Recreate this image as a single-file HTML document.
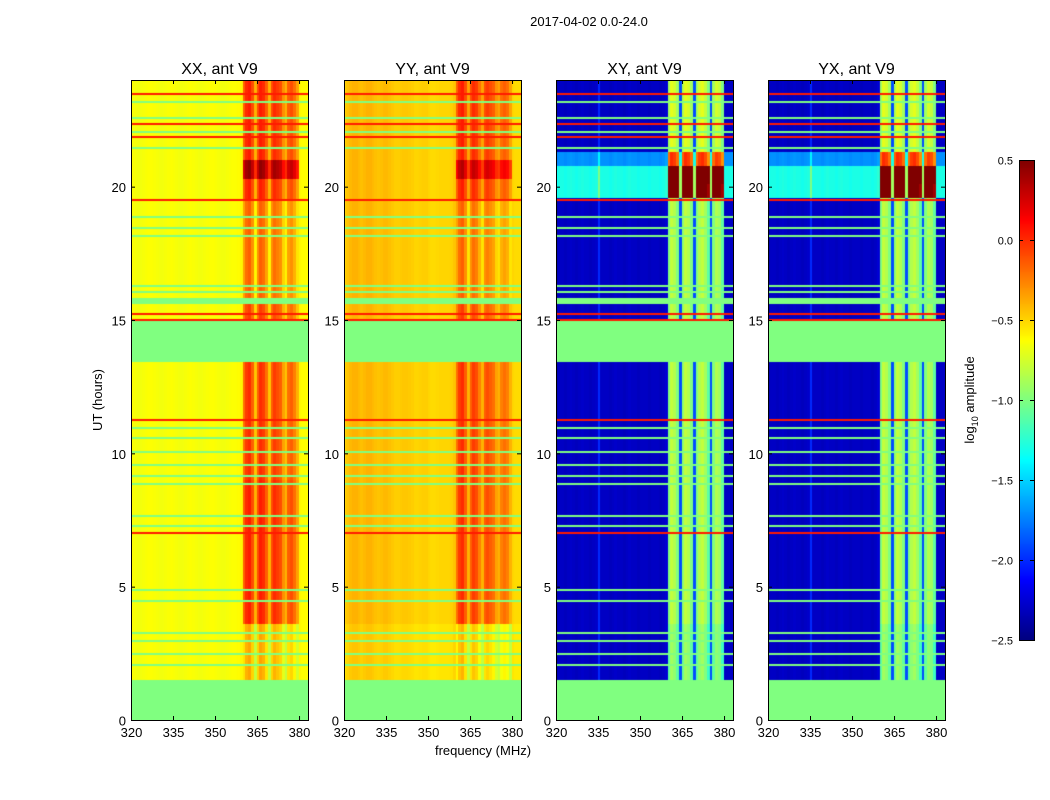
<!DOCTYPE html>
<html><head><meta charset="utf-8">
<style>
body{margin:0;background:#fff;width:1050px;height:800px;position:relative;overflow:hidden;font-family:"Liberation Sans",sans-serif}
canvas{position:absolute}
svg{position:absolute;left:0;top:0}
text{font-family:"Liberation Sans",sans-serif;fill:#000}
</style></head><body>
<canvas id="c0" width="177" height="640" style="left:131px;top:80px"></canvas>
<canvas id="c1" width="177" height="640" style="left:344px;top:80px"></canvas>
<canvas id="c2" width="177" height="640" style="left:556px;top:80px"></canvas>
<canvas id="c3" width="177" height="640" style="left:768px;top:80px"></canvas>
<canvas id="cb" width="15" height="480" style="left:1019px;top:160px"></canvas>
<svg id="ov" width="1050" height="800"></svg>
<script>
// ---- data ----
const panelTitles = ["XX, ant V9","YY, ant V9","XY, ant V9","YX, ant V9"];
const xTicks = [320,335,350,365,380];
const yTicks = [0,5,10,15,20];
const cbTicks = [0.5,0.0,-0.5,-1.0,-1.5,-2.0,-2.5];
const channels = [320,321,322,323,324,325,326,327,328,329,330,331,332,333,334,335,336,337,338,339,340,341,342,343,344,345,346,347,348,349,350,351,352,353,354,355,356,357,358,359,360,361,362,363,364,365,366,367,368,369,370,371,372,373,374,375,376,377,378,379,380,381,382,383];
// spectral profiles (log10 amplitude) per channel
const profileXX = [-0.62,-0.65,-0.66,-0.66,-0.65,-0.64,-0.63,-0.63,-0.64,-0.65,-0.66,-0.66,-0.65,-0.64,-0.63,-0.64,-0.65,-0.66,-0.66,-0.65,-0.64,-0.63,-0.64,-0.65,-0.66,-0.66,-0.65,-0.64,-0.63,-0.63,-0.64,-0.65,-0.66,-0.66,-0.65,-0.64,-0.63,-0.63,-0.62,-0.6,-0.25,-0.1,-0.05,-0.2,-0.5,-0.2,-0.05,-0.1,-0.25,-0.5,-0.2,-0.1,-0.15,-0.2,-0.4,-0.5,-0.25,-0.2,-0.3,-0.45,-0.6,-0.62,-0.62,-0.62];
const profileYY = [-0.5,-0.45,-0.42,-0.4,-0.4,-0.42,-0.44,-0.42,-0.4,-0.4,-0.42,-0.44,-0.45,-0.44,-0.42,-0.42,-0.44,-0.46,-0.48,-0.48,-0.47,-0.46,-0.46,-0.47,-0.48,-0.5,-0.5,-0.49,-0.48,-0.48,-0.5,-0.52,-0.52,-0.51,-0.5,-0.5,-0.5,-0.5,-0.49,-0.45,-0.25,-0.1,-0.05,-0.2,-0.45,-0.2,-0.1,-0.15,-0.3,-0.45,-0.2,-0.15,-0.2,-0.25,-0.4,-0.45,-0.3,-0.25,-0.3,-0.45,-0.5,-0.52,-0.52,-0.52];
const profileXY = [-2.35,-2.3,-2.3,-2.32,-2.3,-2.28,-2.3,-2.32,-2.3,-2.28,-2.3,-2.3,-2.32,-2.3,-2.28,-2.0,-2.3,-2.3,-2.3,-2.32,-2.3,-2.28,-2.3,-2.3,-2.32,-2.3,-2.28,-2.3,-2.3,-2.32,-2.3,-2.3,-2.3,-2.32,-2.3,-2.3,-2.3,-2.32,-2.3,-2.25,-1.0,-0.8,-0.85,-1.0,-1.9,-0.95,-0.8,-0.85,-1.0,-1.9,-1.0,-0.85,-0.8,-0.9,-1.1,-1.9,-1.0,-0.85,-0.9,-1.1,-2.3,-2.3,-2.3,-2.3];
const profileYX = profileXY.slice();
// time segments: [start h, end h, background offset, band boost, flagged(1/0)]
const segXX = [[0,1.5,0,0,1],[1.5,3.6,0,-0.3,0],[3.6,9,0,0.1,0],[9,13.45,0,0.05,0],[13.45,15,0,0,1],[15,15.6,0,0,0],[15.6,15.85,0,0,1],[15.85,19.5,0,-0.1,0],[19.5,20.3,0,0.1,0],[20.3,21,0,0.5,0],[21,24,0,0.1,0]];
const segYY = [[0,1.5,0,0,1],[1.5,3.6,-0.05,-0.3,0],[3.6,9,0,0.05,0],[9,13.45,0,0.05,0],[13.45,15,0,0,1],[15,15.6,0,0,0],[15.6,15.85,0,0,1],[15.85,19.5,0,-0.1,0],[19.5,20.3,0,0.1,0],[20.3,21,0,0.4,0],[21,24,0,0.1,0]];
const segXY = [[0,1.5,0,0,1],[1.5,3.6,0,-0.1,0],[3.6,13.45,0,0,0],[13.45,15,0,0,1],[15,15.6,0,0,0],[15.6,15.85,0,0,1],[15.85,19.6,0,0,0],[19.6,20.1,1.0,0.5,0],[20.1,20.8,1.0,1.3,0],[20.8,21.3,0.6,0.2,0],[21.3,24,0,0.1,0]];
const segYX = segXY.map(s=>s.slice());
// thin flagged (green) and strong (red) rows
const greenLines = [2.1,2.5,3.0,3.3,4.5,4.9,7.3,7.7,8.9,9.2,9.6,10.1,10.6,11.0,16.1,16.3,18.2,18.5,18.9,21.5,22.1,22.6,23.2];
const redLines = [7.05,11.3,15.05,15.25,19.55,21.9,22.4,23.5];
// ---- drawing ----
const X0=320,X1=383.2,T0=0,T1=24,W=177,H=640;
const xs=f=>(f-X0)/(X1-X0)*W;
const ys=t=>H-(t-T0)/(T1-T0)*H;
const VMIN=-2.5,VMAX=0.5;
function jet(v){let t=(v-VMIN)/(VMAX-VMIN);t=Math.max(0,Math.min(1,t));
 const c=x=>Math.round(255*Math.max(0,Math.min(1,x)));
 return `rgb(${c(1.5-Math.abs(4*t-3))},${c(1.5-Math.abs(4*t-2))},${c(1.5-Math.abs(4*t-1))})`;}
const profiles=[profileXX,profileYY,profileXY,profileYX];
const segs=[segXX,segYY,segXY,segYX];
for(let p=0;p<4;p++){
 const ctx=document.getElementById('c'+p).getContext('2d');
 const prof=profiles[p];
 segs[p].forEach(s=>{
  const y0=ys(s[1]),y1=ys(s[0]);
  channels.forEach((f,i)=>{
   let v;
   if(s[4]) v=-1.0; else {const band=f>=360&&f<=379&&prof[i]>-1.5; v=prof[i]+s[2]+(band?s[3]:0);}
   ctx.fillStyle=jet(v);
   const xa=xs(f),xb=Math.min(W,xs(f+1));
   ctx.fillRect(Math.floor(xa),Math.floor(y0),Math.ceil(xb-xa)+1,Math.ceil(y1-y0));
  });
 });
 greenLines.forEach(t=>{ctx.fillStyle=jet(-1.0);ctx.fillRect(0,Math.round(ys(t)),W,2);});
 redLines.forEach(t=>{ctx.fillStyle=jet(0.05);ctx.fillRect(0,Math.round(ys(t)),W,2);});
}
const cb=document.getElementById('cb').getContext('2d');
for(let y=0;y<480;y++){cb.fillStyle=jet(VMAX-(y+0.5)/480*(VMAX-VMIN));cb.fillRect(0,y,15,1);}
// ---- axes overlay ----
const NS='http://www.w3.org/2000/svg',ov=document.getElementById('ov');
function mk(tag,attrs,txt){const e=document.createElementNS(NS,tag);for(const k in attrs)e.setAttribute(k,attrs[k]);if(txt!==undefined)e.textContent=txt;ov.appendChild(e);return e;}
const lefts=[131,344,556,768],TOP=80;
const fig=mk('text',{x:589,y:26,'font-size':13,'text-anchor':'middle'},'2017-04-02 0.0-24.0');


lefts.forEach((L,p)=>{
 const fr=mk('rect',{x:L+0.5,y:TOP+0.5,width:W,height:H,fill:'none',stroke:'#000','stroke-width':1});
 
 
 const tt=mk('text',{x:L+W/2,y:74,'font-size':16,'text-anchor':'middle'},panelTitles[p]);
 
 
 xTicks.forEach(f=>{const x=L+xs(f)+0.5;
  mk('line',{x1:x,x2:x,y1:TOP+H,y2:TOP+H-4,stroke:'#000'});
  mk('line',{x1:x,x2:x,y1:TOP,y2:TOP+4,stroke:'#000'});
  const tl=mk('text',{x:x,y:TOP+H+17,'font-size':13,'text-anchor':'middle'},String(f));
  
  
 });
 yTicks.forEach(t=>{const y=TOP+ys(t)+0.5;
  mk('line',{x1:L,x2:L+4,y1:y,y2:y,stroke:'#000'});
  mk('line',{x1:L+W,x2:L+W-4,y1:y,y2:y,stroke:'#000'});
  const tl=mk('text',{x:L-5,y:y+5,'font-size':13,'text-anchor':'end'},String(t));
  
  
 });
});
const xl=mk('text',{x:483,y:755,'font-size':13,'text-anchor':'middle'},'frequency (MHz)');


const yl=mk('text',{x:0,y:0,'font-size':13,'text-anchor':'middle',transform:'translate(102,400) rotate(-90)'},'UT (hours)');


const cbf=mk('rect',{x:1019.5,y:160.5,width:15,height:480,fill:'none',stroke:'#000'});


cbTicks.forEach(v=>{const y=160+(VMAX-v)/(VMAX-VMIN)*480+0.5;
 mk('line',{x1:1019,x2:1023,y1:y,y2:y,stroke:'#000'});
 mk('line',{x1:1030,x2:1034,y1:y,y2:y,stroke:'#000'});
 const tl=mk('text',{x:1013,y:y+4,'font-size':11,'text-anchor':'end'},v.toFixed(1).replace('-','\u2212'));
 
 
});
const cl=mk('text',{x:0,y:0,'font-size':13,'text-anchor':'middle',transform:'translate(974,400) rotate(-90)'});


cl.innerHTML='log<tspan font-size="9" dy="4">10</tspan><tspan dy="-4"> amplitude</tspan>';
</script>
</body></html>
